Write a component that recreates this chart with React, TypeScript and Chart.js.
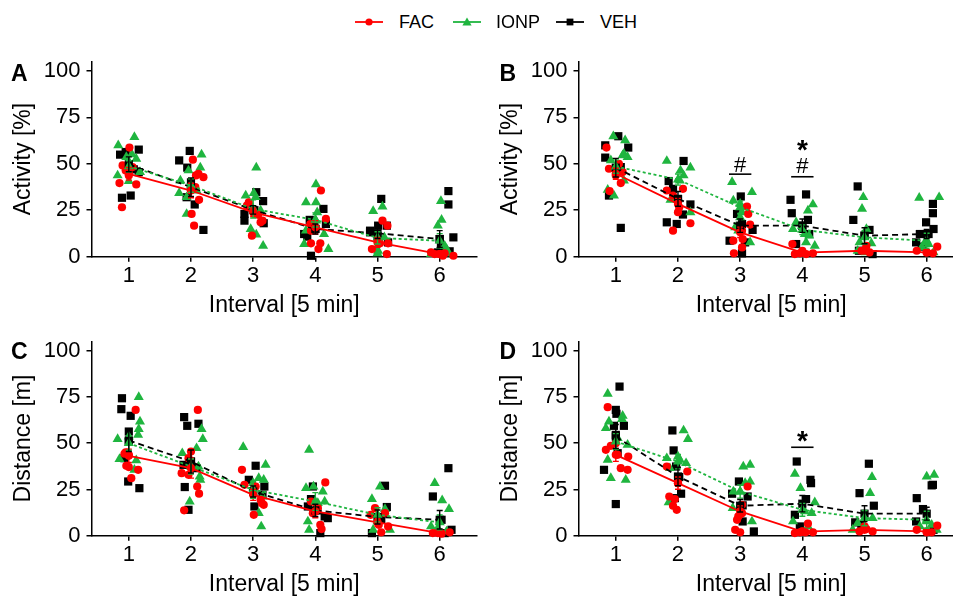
import React, { useEffect, useRef } from "react";
import { Chart, registerables } from "chart.js";

Chart.register(...registerables);

const FONT = "'Liberation Sans', Arial, Helvetica, sans-serif";

// ---------- shared axis data ----------
const INTERVALS = [1, 2, 3, 4, 5, 6];
const Y_TICKS = [0, 25, 50, 75, 100];
const X_TITLE = "Interval [5 min]";
const GROUPS = ["FAC", "IONP", "VEH"];

// ---------- Panel A : Activity [%] ----------
// individual animals per interval: [jitter offset, value]
const A_FAC_PTS = [
  [[0.01, 58.7], [-0.1, 49.1], [0.06, 48.2], [-0.05, 46.4], [0, 43.7], [-0.15, 39.6], [0.12, 38.9], [-0.11, 26.6]],
  [[0.03, 52.2], [0.08, 43.7], [0.2, 42.8], [0.07, 37.4], [0.13, 30.6], [0.01, 23], [0.05, 16.7], [0.12, 44.6]],
  [[-0.07, 29.3], [0.12, 18.5], [0.15, 19.4], [-0.02, 11.3], [-0.1, 27.5], [0.02, 23], [0.08, 22.5]],
  [[0.09, 35.6], [0.17, 20.3], [-0.08, 17.6], [-0.07, 7.2], [0.08, 7.2], [0.05, 4.1], [-0.07, 14]],
  [[0.08, 19.4], [0.16, 16.7], [-0.09, 4.1], [0.04, 7.2], [0.15, 1.4], [0.17, 7.2]],
  [[-0.14, 2.3], [0, 1.4], [0.05, 0.5], [0.22, 0.5], [-0.08, 1.4], [0.08, 1.8]],
];
const A_IONP_PTS = [
  [[0.09, 64.4], [-0.17, 59.9], [0.05, 55.1], [0.12, 52.7], [-0.04, 53.6], [-0.18, 43.7], [0, 40.7], [0.18, 45.5]],
  [[0.17, 54.9], [0.15, 47.9], [-0.04, 46.4], [-0.17, 41], [-0.19, 34.2], [-0.07, 32], [-0.07, 23], [0.09, 35.6]],
  [[0.05, 47.9], [-0.12, 32.9], [0.01, 34.2], [-0.04, 14.9], [0.05, 11.9], [0.16, 5.9], [0.12, 24.8], [0.04, 32]],
  [[0.01, 38.9], [-0.15, 29.3], [0.01, 29.3], [0.03, 23.9], [0.01, 19.4], [-0.15, 14], [0.14, 12.2], [-0.18, 6.8], [0.21, 4.1]],
  [[0.08, 27], [-0.07, 24.5], [0, 12.2], [0.01, 3.2], [0, 1.8], [0.11, 10.4], [-0.02, 4.1]],
  [[0.02, 29.9], [0.03, 19.8], [-0.03, 16.7], [0.08, 5.9], [0.11, 4.1], [-0.14, 1.4], [0.14, 1.8]],
];
const A_VEH_PTS = [
  [[-0.14, 54.9], [-0.05, 56.3], [0.16, 57.6], [0.16, 45.5], [-0.11, 31.7], [0.03, 32.9], [0.08, 47]],
  [[-0.19, 51.8], [-0.02, 56.9], [-0.06, 47.9], [0.06, 28.1], [0.2, 14.4], [-0.07, 32], [0, 40]],
  [[0.05, 34.7], [0.16, 29.9], [-0.14, 23], [-0.14, 19.4], [0.17, 18], [-0.07, 26.6], [0.02, 25]],
  [[0.13, 25.7], [-0.09, 19.8], [-0.18, 12.2], [0.17, 17.6], [-0.07, 0.5], [-0.13, 10.8], [0, 15]],
  [[0.06, 31.1], [-0.12, 13.1], [0.01, 16.7], [0.15, 16.7], [0.17, 7.7], [-0.12, 14], [0, 11]],
  [[0.14, 35.3], [0.14, 28.1], [0.22, 10.4], [0.02, 5], [0.16, 2.9], [-0.03, 2.3], [0, 9.5]],
];
const A_FAC_MEAN = [44.6, 35.6, 23.9, 15.8, 7.7, 1.4];
const A_IONP_MEAN = [48.6, 38.3, 25.7, 19.8, 10.1, 8.6];
const A_VEH_MEAN = [49.7, 37.4, 25.2, 14.9, 12.6, 9.5];
const A_FAC_SE = [3.4, 3.9, 2.3, 3.6, 2.6, 0.6];
const A_IONP_SE = [3.0, 3.6, 4.9, 3.8, 3.3, 3.8];
const A_VEH_SE = [4.0, 5.0, 2.3, 2.7, 2.8, 4.5];

// ---------- Panel B : Activity [%] ----------
const B_FAC_PTS = [
  [[-0.15, 58.7], [-0.11, 47.3], [0, 43.7], [0.08, 39.6], [-0.1, 35.3], [0.11, 45.5], [0.05, 50]],
  [[-0.18, 35.6], [-0.08, 32.9], [0.02, 26.6], [0, 23.9], [0.2, 18], [-0.08, 14], [0.08, 36.5]],
  [[0.11, 27], [0.13, 23], [0.16, 17.3], [0.03, 14], [-0.11, 8.6], [0.04, 9.5], [-0.1, 1.8], [0.03, 5]],
  [[-0.16, 6.8], [-0.04, 1.8], [0.06, 1.4], [0.17, 1.8], [0, 3.2], [-0.12, 1.4]],
  [[0.02, 4.1], [-0.05, 3.2], [0.08, 2.3], [0.03, 5.9]],
  [[0.17, 5.4], [-0.16, 3.2], [0, 2.3], [0.1, 1.8]],
];
const B_IONP_PTS = [
  [[-0.04, 64.8], [0.15, 62.6], [0.19, 53.6], [0.13, 55.4], [-0.08, 51.8], [0.11, 54.5], [-0.13, 36], [-0.03, 32.9], [0.13, 41]],
  [[-0.18, 51.5], [0.04, 46.4], [0.2, 47.9], [0.09, 43.7], [0.03, 41], [-0.12, 30.6], [0.2, 23.9]],
  [[-0.13, 40.1], [0.19, 34.7], [-0.11, 30.2], [0, 28.4], [0.03, 23.9], [0, 21.2], [-0.08, 15.8], [0.16, 7.7], [-0.03, 14]],
  [[0.17, 28.1], [0.09, 24.8], [-0.15, 14.9], [0.04, 12.2], [0.11, 11.3], [0.2, 5.9], [0.06, 7.7], [-0.1, 18.5]],
  [[-0.02, 32], [-0.04, 25.7], [0.03, 14.9], [0.11, 7.2], [-0.08, 7.7], [-0.11, 3.2], [0.02, 2.3]],
  [[-0.12, 31.7], [0.2, 32], [0.03, 6.8], [-0.08, 5], [0.11, 2.3], [-0.03, 7.7]],
];
const B_VEH_PTS = [
  [[0.04, 64.8], [-0.17, 59.9], [0.2, 58.7], [-0.17, 53.3], [0.08, 48.2], [-0.11, 32.9], [0.08, 15.5], [0.01, 47.3]],
  [[0.09, 51.5], [-0.15, 40.7], [-0.08, 36.5], [0.2, 28.1], [-0.18, 18.5], [-0.02, 17.6], [0.08, 22.7], [0, 31]],
  [[0.01, 32.4], [-0.05, 23], [-0.17, 8.6], [0.03, 17.6], [0.2, 14.4], [0.03, 1.8], [0.08, 7.7]],
  [[-0.19, 30.6], [0.06, 33.5], [-0.17, 23.4], [0.09, 19.8], [0.11, 12.2], [-0.1, 6.8], [0, 16.7]],
  [[-0.11, 37.8], [-0.18, 19.8], [0.08, 14.4], [0, 11.3], [-0.09, 3.2], [0.13, 1.4]],
  [[0.1, 28.4], [0.1, 23.4], [-0.01, 18.5], [0.11, 14.9], [0.03, 12.2], [-0.11, 12.2], [-0.17, 7.7], [-0.08, 5.4]],
];
const B_FAC_MEAN = [44.6, 28.4, 13.1, 2.2, 3.2, 2.3];
const B_IONP_MEAN = [48.5, 41.5, 26.6, 14.5, 10.4, 8.6];
const B_VEH_MEAN = [47.9, 31.1, 16.7, 16.7, 11.3, 12.2];
const B_FAC_SE = [3.0, 3.0, 2.8, 0.8, 0.8, 0.7];
const B_IONP_SE = [3.6, 3.0, 3.3, 2.6, 3.6, 4.0];
const B_VEH_SE = [5.0, 4.0, 3.6, 3.6, 4.3, 2.4];

// ---------- Panel C : Distance [m] ----------
const C_FAC_PTS = [
  [[0.11, 68], [-0.07, 44.3], [0, 43.7], [-0.04, 37.8], [0, 37.1], [0.15, 35.6], [0.04, 31.1], [-0.05, 45]],
  [[0.11, 68], [0, 45.5], [-0.04, 41.9], [-0.15, 33.8], [-0.04, 32.9], [0.1, 26.6], [0.13, 22.7], [-0.11, 13.7]],
  [[-0.18, 35.6], [-0.14, 27.5], [0.04, 26.6], [0.12, 19.4], [0.17, 16.7], [0.01, 11.3], [0.14, 17.6]],
  [[0.16, 28.8], [-0.07, 18.5], [-0.04, 12.2], [0.08, 5.9], [0.1, 3.6], [0.04, 14.9]],
  [[-0.04, 14.9], [-0.11, 11.3], [0.12, 12.2], [0.02, 5.9], [0.06, 1.8], [0.17, 5]],
  [[-0.03, 1.4], [0.03, 1.1], [0.16, 1.8], [-0.11, 1.4]],
];
const C_IONP_PTS = [
  [[0.16, 74.9], [0.18, 61.7], [0.16, 57.6], [0.15, 54.5], [-0.18, 52.2], [0, 53.6], [-0.15, 41.4], [0.12, 40.7], [0.09, 35.6]],
  [[0.17, 57.6], [0.19, 52.2], [0.09, 47.3], [-0.14, 44.6], [0.12, 37.4], [0.15, 30.2], [-0.02, 18.5], [0.14, 32]],
  [[-0.16, 47.9], [0.2, 38.3], [0.09, 31.1], [0.17, 30.2], [0, 28.4], [0.15, 21.2], [0.09, 12.2], [0.13, 5]],
  [[-0.1, 46.4], [-0.15, 25.7], [-0.03, 26.6], [0.12, 23.9], [0.04, 17.6], [-0.12, 7.7], [-0.1, 3.2], [0.15, 18.5]],
  [[0.04, 26.6], [-0.09, 19.8], [0.12, 14.4], [-0.07, 3.2], [0.2, 3.2], [0, 7.7]],
  [[-0.08, 28.4], [0.04, 19.1], [0.15, 14.4], [-0.14, 5], [-0.03, 4.1], [0.11, 2.3]],
];
const C_VEH_PTS = [
  [[-0.11, 74.3], [-0.12, 68.4], [0.03, 64.8], [0, 56.3], [-0.01, 29.3], [0.17, 25.7], [-0.07, 41.9], [0, 51]],
  [[-0.11, 64.1], [-0.06, 59.4], [0.12, 60.5], [-0.12, 38.3], [-0.1, 26.3], [0.09, 36.5], [-0.04, 14], [0, 40]],
  [[0.04, 37.8], [-0.07, 30.2], [0.18, 26.6], [0.02, 15.8], [0.15, 22.1], [0, 24]],
  [[-0.04, 26.6], [-0.07, 19.8], [0.03, 13.7], [0.2, 9.5], [0.15, 10.4], [0.08, 1.4], [-0.12, 15.8]],
  [[0.12, 27], [0.15, 15.5], [0.02, 10.1], [-0.09, 1.4], [0.06, 8.6]],
  [[0.14, 36.5], [-0.11, 21.2], [0.03, 8.6], [0.19, 3.2], [0.08, 1.4]],
];
const C_FAC_MEAN = [43.2, 36.5, 22.1, 13.1, 7.2, 1.4];
const C_IONP_MEAN = [50.0, 37.4, 24.8, 18.5, 11.3, 7.2];
const C_VEH_MEAN = [51.5, 40.1, 23.9, 13.7, 10.1, 8.6];
const C_FAC_SE = [3.6, 5.4, 3.0, 3.4, 2.0, 0.3];
const C_IONP_SE = [3.8, 4.1, 4.6, 4.8, 3.8, 4.0];
const C_VEH_SE = [6.0, 6.2, 3.0, 3.3, 3.8, 5.0];

// ---------- Panel D : Distance [m] ----------
const D_FAC_PTS = [
  [[-0.13, 69.5], [-0.16, 46.4], [-0.08, 48.6], [0.03, 43.7], [0.08, 36.5], [0.2, 42.8], [0.19, 35.6], [0, 50]],
  [[-0.18, 37.4], [0.15, 34.7], [-0.14, 21.2], [-0.05, 19.8], [-0.08, 16.2], [-0.02, 14], [0, 28.4]],
  [[0.12, 26.6], [0.03, 16.7], [-0.05, 8.6], [0.03, 12.2], [-0.08, 3.2], [0, 1.8], [-0.03, 10.4]],
  [[0.09, 6.5], [-0.04, 1.8], [0.05, 1.8], [0.17, 1.8], [-0.12, 1.4], [0, 2.3]],
  [[0.03, 3.6], [-0.08, 2.3], [0.13, 2.3], [0, 5]],
  [[0.17, 5.4], [-0.16, 3.2], [0, 1.8], [0.08, 1.8]],
];
const D_IONP_PTS = [
  [[-0.13, 76.7], [-0.11, 61.7], [0.11, 64.8], [-0.16, 58.1], [0.1, 63], [0.19, 49.1], [-0.13, 41], [-0.08, 31.1], [0.16, 30.2], [0.03, 52.7]],
  [[0.09, 56.9], [0.16, 52.2], [-0.18, 41.9], [0, 42.8], [0.03, 41], [0.13, 39.2], [-0.13, 36.5], [-0.15, 18]],
  [[0.05, 37.4], [0.16, 38.3], [-0.11, 23.9], [0, 23.9], [0.16, 29.3], [0.08, 28.4], [-0.12, 14.9], [0.19, 7.7]],
  [[-0.12, 33.5], [-0.03, 25.7], [0.2, 18], [0.04, 13.1], [0.15, 12.2], [-0.15, 7.7], [0.09, 5]],
  [[0.12, 31.7], [0.09, 23], [0.13, 9.5], [-0.11, 6.8], [-0.03, 3.2], [-0.19, 3.2]],
  [[0, 32], [0.12, 32.9], [0, 7.7], [-0.11, 5], [0.08, 5.9], [0.16, 3.2]],
];
const D_VEH_PTS = [
  [[0.06, 80.6], [0, 68], [0.01, 65.9], [0.13, 59.4], [-0.03, 59.4], [0, 54.5], [-0.19, 35.6], [0, 17.1], [0.03, 44.6]],
  [[-0.09, 56.9], [-0.07, 46.1], [-0.03, 37.4], [0.05, 22.7], [-0.05, 20.3], [0.02, 31.7]],
  [[-0.02, 29.3], [0.12, 21.2], [-0.13, 22.7], [0.04, 16.4], [0.04, 7.7], [0.22, 2.3]],
  [[-0.09, 40.1], [0.13, 30.2], [0.14, 28.4], [0.06, 19.8], [-0.12, 11.3], [-0.04, 5]],
  [[0.07, 38.9], [-0.08, 23], [0.15, 16.2], [-0.15, 7.2], [-0.05, 5.9]],
  [[-0.16, 20.3], [0.08, 27.2], [0.1, 27.5], [-0.06, 14.4], [-0.17, 7.7], [0.11, 3.2]],
];
const D_FAC_MEAN = [43.7, 28.4, 13.1, 2.2, 3.2, 2.3];
const D_IONP_MEAN = [50.9, 40.0, 23.9, 14.0, 9.5, 8.6];
const D_VEH_MEAN = [53.6, 32.0, 16.2, 17.3, 11.9, 11.9];
const D_FAC_SE = [3.5, 3.3, 3.0, 0.8, 0.7, 0.7];
const D_IONP_SE = [4.3, 3.9, 3.6, 3.5, 4.1, 4.6];
const D_VEH_SE = [6.5, 5.0, 3.4, 4.4, 4.3, 3.5];

// ---------- significance marks (value coordinates) ----------
const B_MARKS = [
  { x: 3, text: "#", textY: 45.7, lineY: 44.4, half: 0.18, bold: false },
  { x: 4, text: "#", textY: 44.9, lineY: 43.0, half: 0.18, bold: false },
  { x: 4, text: "*", textY: 52.4, lineY: null, half: 0, bold: true },
];
const D_MARKS = [{ x: 4, text: "*", textY: 46.3, lineY: 47.8, half: 0.18, bold: true }];

// ---------- styles ----------
const STYLE: any = {
  FAC: { color: "#ff0000", point: "circle", r: 4.1, dash: [] },
  IONP: { color: "#1fb53f", point: "triangle", r: 5.8, dash: [3, 2.5] },
  VEH: { color: "#000000", point: "rect", r: 5.8, dash: [6, 4] },
};

const PANELS = [
  {
    key: "A", yTitle: "Activity [%]", left: 0, top: 40, height: 279, padTop: 21.5,
    pts: { FAC: A_FAC_PTS, IONP: A_IONP_PTS, VEH: A_VEH_PTS },
    mean: { FAC: A_FAC_MEAN, IONP: A_IONP_MEAN, VEH: A_VEH_MEAN },
    se: { FAC: A_FAC_SE, IONP: A_IONP_SE, VEH: A_VEH_SE },
    marks: [],
  },
  {
    key: "B", yTitle: "Activity [%]", left: 487, top: 40, height: 279, padTop: 21.5,
    pts: { FAC: B_FAC_PTS, IONP: B_IONP_PTS, VEH: B_VEH_PTS },
    mean: { FAC: B_FAC_MEAN, IONP: B_IONP_MEAN, VEH: B_VEH_MEAN },
    se: { FAC: B_FAC_SE, IONP: B_IONP_SE, VEH: B_VEH_SE },
    marks: B_MARKS,
  },
  {
    key: "C", yTitle: "Distance [m]", left: 0, top: 320, height: 278, padTop: 21.45,
    pts: { FAC: C_FAC_PTS, IONP: C_IONP_PTS, VEH: C_VEH_PTS },
    mean: { FAC: C_FAC_MEAN, IONP: C_IONP_MEAN, VEH: C_VEH_MEAN },
    se: { FAC: C_FAC_SE, IONP: C_IONP_SE, VEH: C_VEH_SE },
    marks: [],
  },
  {
    key: "D", yTitle: "Distance [m]", left: 487, top: 320, height: 278, padTop: 21.45,
    pts: { FAC: D_FAC_PTS, IONP: D_IONP_PTS, VEH: D_VEH_PTS },
    mean: { FAC: D_FAC_MEAN, IONP: D_IONP_MEAN, VEH: D_VEH_MEAN },
    se: { FAC: D_FAC_SE, IONP: D_IONP_SE, VEH: D_VEH_SE },
    marks: D_MARKS,
  },
];

const CANVAS_W = 490;

const errorBarPlugin = {
  id: "errorBars",
  afterDatasetsDraw(chart: any) {
    const { ctx } = chart;
    const xs = chart.scales.x;
    const ys = chart.scales.y;
    chart.data.datasets.forEach((ds: any) => {
      if (!ds.se) return;
      ctx.save();
      ctx.strokeStyle = ds.borderColor;
      ctx.lineWidth = 1.4;
      ctx.setLineDash([]);
      ds.data.forEach((pt: any, i: number) => {
        const px = xs.getPixelForValue(pt.x);
        const t = ys.getPixelForValue(pt.y + ds.se[i]);
        const b = ys.getPixelForValue(Math.max(0, pt.y - ds.se[i]));
        ctx.beginPath();
        ctx.moveTo(px, t);
        ctx.lineTo(px, b);
        ctx.moveTo(px - 3, t);
        ctx.lineTo(px + 3, t);
        ctx.moveTo(px - 3, b);
        ctx.lineTo(px + 3, b);
        ctx.stroke();
      });
      ctx.restore();
    });
  },
};

function marksPlugin(marks: any[]) {
  return {
    id: "sigMarks",
    afterDraw(chart: any) {
      const { ctx } = chart;
      const xs = chart.scales.x;
      const ys = chart.scales.y;
      ctx.save();
      ctx.fillStyle = "#000";
      ctx.strokeStyle = "#000";
      ctx.lineWidth = 1.6;
      marks.forEach((m) => {
        const px = xs.getPixelForValue(m.x);
        ctx.font = m.bold ? `bold 28px ${FONT}` : `22px ${FONT}`;
        ctx.textAlign = "center";
        ctx.textBaseline = "alphabetic";
        ctx.fillText(m.text, px, ys.getPixelForValue(m.textY));
        if (m.lineY !== null) {
          const py = ys.getPixelForValue(m.lineY);
          ctx.beginPath();
          ctx.moveTo(xs.getPixelForValue(m.x - m.half), py);
          ctx.lineTo(xs.getPixelForValue(m.x + m.half), py);
          ctx.stroke();
        }
      });
      ctx.restore();
    },
  };
}

function buildConfig(p: any) {
  const datasets: any[] = [];
  GROUPS.forEach((g, gi) => {
    const s = STYLE[g];
    datasets.push({
      type: "line",
      label: g,
      data: INTERVALS.map((x, i) => ({ x, y: p.mean[g][i] })),
      se: p.se[g],
      borderColor: s.color,
      borderWidth: 1.8,
      borderDash: s.dash,
      pointStyle: s.point,
      pointRadius: s.r,
      pointBackgroundColor: s.color,
      pointBorderWidth: 0,
      fill: false,
      tension: 0,
      clip: false,
      order: gi,
    });
  });
  const ptsOrder: any = { FAC: 3, IONP: 4, VEH: 5 };
  GROUPS.forEach((g) => {
    const s = STYLE[g];
    const data: any[] = [];
    p.pts[g].forEach((arr: number[][], i: number) => {
      arr.forEach(([dx, y]) => data.push({ x: INTERVALS[i] + dx, y }));
    });
    datasets.push({
      type: "scatter",
      label: g + " individual",
      data,
      pointStyle: s.point,
      pointRadius: s.r,
      backgroundColor: s.color,
      borderWidth: 0,
      clip: false,
      order: ptsOrder[g],
    });
  });

  const axisFont = { family: FONT, size: 22 };
  const titleFont = { family: FONT, size: 23 };
  return {
    type: "scatter",
    data: { datasets },
    options: {
      responsive: false,
      animation: false,
      devicePixelRatio: 1,
      events: [],
      layout: { padding: { left: 0, right: 13, top: p.padTop, bottom: 0 } },
      plugins: { legend: { display: false }, tooltip: { enabled: false } },
      scales: {
        x: {
          type: "linear",
          min: 0.4,
          max: 6.6,
          afterBuildTicks: (sc: any) => {
            sc.ticks = INTERVALS.map((v) => ({ value: v }));
          },
          afterFit: (sc: any) => {
            sc.height = 62.3;
          },
          grid: { drawOnChartArea: false, drawTicks: true, tickLength: 5, color: "#000", lineWidth: 1.5 },
          border: { display: true, color: "#000", width: 1.5 },
          ticks: { color: "#000", font: axisFont, padding: 1, maxRotation: 0, autoSkip: false },
          title: { display: true, text: X_TITLE, color: "#000", font: titleFont, padding: { top: 0, bottom: 0 } },
        },
        y: {
          type: "linear",
          min: 0,
          max: 105,
          afterBuildTicks: (sc: any) => {
            sc.ticks = Y_TICKS.map((v) => ({ value: v }));
          },
          afterFit: (sc: any) => {
            sc.width = 91.5;
          },
          grid: { drawOnChartArea: false, drawTicks: true, tickLength: 5, color: "#000", lineWidth: 1.5 },
          border: { display: true, color: "#000", width: 1.5 },
          ticks: { color: "#000", font: axisFont, padding: 6 },
          title: { display: true, text: p.yTitle, color: "#000", font: titleFont, padding: { top: 10, bottom: 0 } },
        },
      },
    },
    plugins: [errorBarPlugin, marksPlugin(p.marks)],
  };
}

function PanelChart({ panel }: { panel: any }) {
  const ref = useRef<HTMLCanvasElement | null>(null);
  useEffect(() => {
    const chart = new Chart(ref.current as HTMLCanvasElement, buildConfig(panel) as any);
    return () => chart.destroy();
  }, [panel]);
  return (
    <canvas
      ref={ref}
      width={CANVAS_W}
      height={panel.height}
      style={{ position: "absolute", left: panel.left, top: panel.top, width: CANVAS_W, height: panel.height }}
    />
  );
}

const LEGEND_POS: any = {
  FAC: { line: 354, text: 399 },
  IONP: { line: 452, text: 496 },
  VEH: { line: 555, text: 600 },
};

function LegendSymbol({ g }: { g: string }) {
  const c = STYLE[g].color;
  let marker: any = null;
  if (g === "FAC") marker = <circle cx={15} cy={7} r={3.6} fill={c} />;
  if (g === "IONP") marker = <polygon points="15,2.6 19.6,10.4 10.4,10.4" fill={c} />;
  if (g === "VEH") marker = <rect x={11.6} y={3.6} width={6.8} height={6.8} fill={c} />;
  return (
    <svg
      width={30}
      height={14}
      style={{ position: "absolute", left: LEGEND_POS[g].line, top: 14.7 }}
    >
      <line x1={1} y1={7} x2={29} y2={7} stroke={c} strokeWidth={1.8} />
      {marker}
    </svg>
  );
}

const LETTER_POS: any = {
  A: { left: 11, top: 62.2 },
  B: { left: 499.5, top: 62.2 },
  C: { left: 11, top: 339.8 },
  D: { left: 499.5, top: 339.8 },
};

export default function App() {
  return (
    <div
      style={{
        position: "absolute",
        left: 0,
        top: 0,
        width: 953,
        height: 596,
        overflow: "hidden",
        background: "#fff",
        fontFamily: FONT,
        color: "#000",
      }}
    >
      {PANELS.map((p) => (
        <PanelChart key={p.key} panel={p} />
      ))}
      {PANELS.map((p) => (
        <div
          key={"l" + p.key}
          style={{
            position: "absolute",
            left: LETTER_POS[p.key].left,
            top: LETTER_POS[p.key].top,
            fontSize: 23,
            lineHeight: "23px",
            fontWeight: "bold",
            whiteSpace: "nowrap",
          }}
        >
          {p.key}
        </div>
      ))}
      {GROUPS.map((g) => (
        <React.Fragment key={"lg" + g}>
          <LegendSymbol g={g} />
          <div
            style={{
              position: "absolute",
              left: LEGEND_POS[g].text,
              top: 13,
              fontSize: 18,
              lineHeight: "18px",
              whiteSpace: "nowrap",
            }}
          >
            {g}
          </div>
        </React.Fragment>
      ))}
    </div>
  );
}
